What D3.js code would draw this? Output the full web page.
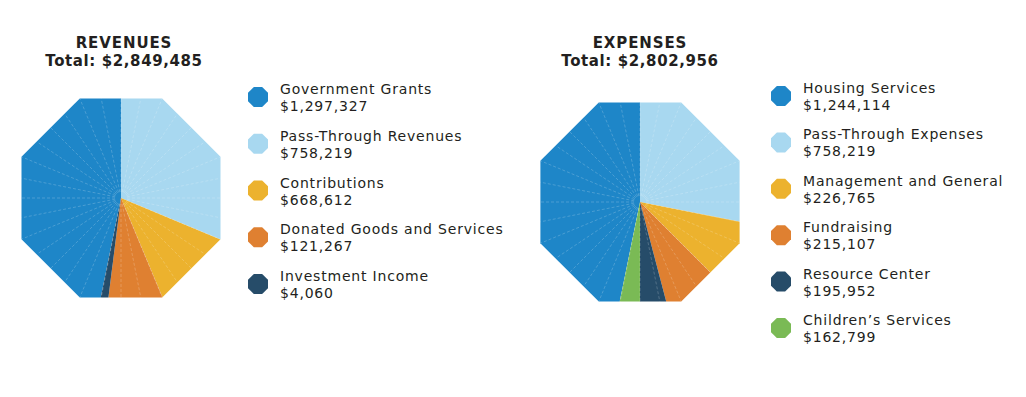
<!DOCTYPE html>
<html>
<head>
<meta charset="utf-8">
<script src="https://cdn.jsdelivr.net/npm/d3@7"></script>
<style>
  body { margin: 0; background: #fff; }
  text { font-family: "DejaVu Sans", sans-serif; fill: #231f20; }
</style>
</head>
<body>
<div id="chart"></div>
<script>
// Revenues
const revenueNames = ["Government Grants", "Pass-Through Revenues", "Contributions", "Donated Goods and Services", "Investment Income"];
const revenueAmounts = [1297327, 758219, 668612, 121267, 4060];
// share of the octagon each slice takes in the picture (percent)
const revenueShares = [46.8, 31.3, 12.4, 8.3, 1.2];
const revenueColors = ["#1e86c8", "#a8d8f0", "#ecb22e", "#df8031", "#264c69"];

// Expenses
const expenseNames = ["Housing Services", "Pass-Through Expenses", "Management and General", "Fundraising", "Resource Center", "Children\u2019s Services"];
const expenseAmounts = [1244114, 758219, 226765, 215107, 195952, 162799];
const expenseShares = [46.8, 28.1, 9.4, 8.4, 4.1, 3.2];
const expenseColors = ["#1e86c8", "#a8d8f0", "#ecb22e", "#df8031", "#264c69", "#7aba55"];

const width = 1026, height = 397;
const money = d3.format("$,");

const svg = d3.select("#chart")
    .append("svg")
    .attr("width", width)
    .attr("height", height);

svg.append("rect").attr("width", width).attr("height", height).attr("fill", "#fff");

// points of a flat-topped regular octagon with the given apothem
function octagon(apothem) {
    const rc = apothem / Math.cos(Math.PI / 8);
    return d3.range(8).map(k => {
        const a = Math.PI / 8 + k * Math.PI / 4;
        return [rc * Math.cos(a), rc * Math.sin(a)];
    });
}

function createOctaPie(id, opts) {
    const g = svg.append("g").attr("transform", `translate(${opts.cx},${opts.cy})`);
    const r = opts.apothem;

    svg.append("clipPath").attr("id", id)
        .append("polygon")
        .attr("points", octagon(r).join(" "));

    const total = d3.sum(opts.shares);
    // first slice ends at 12 o'clock, the rest run clockwise from there
    const start = -2 * Math.PI * opts.shares[0] / total;
    const pie = d3.pie().sort(null).value(d => d)
        .startAngle(start).endAngle(start + 2 * Math.PI);

    const arc = d3.arc().innerRadius(0).outerRadius(r * 1.2);

    const inner = g.append("g").attr("clip-path", `url(#${id})`);
    inner.selectAll("path.slice")
        .data(pie(opts.shares))
        .join("path")
        .attr("class", "slice")
        .attr("d", arc)
        .attr("fill", (d, i) => opts.colors[i]);

    // faint radial seams
    inner.selectAll("line.seam")
        .data(d3.range(32))
        .join("line")
        .attr("class", "seam")
        .attr("x1", k => Math.sin(k * Math.PI / 16) * 6)
        .attr("y1", k => -Math.cos(k * Math.PI / 16) * 6)
        .attr("x2", k => Math.sin(k * Math.PI / 16) * r * 1.2)
        .attr("y2", k => -Math.cos(k * Math.PI / 16) * r * 1.2)
        .attr("stroke", "#fff")
        .attr("stroke-opacity", 0.25)
        .attr("stroke-width", 0.8)
        .attr("stroke-dasharray", "3,2");

    // title
    svg.append("text")
        .attr("x", opts.titleX).attr("y", 48)
        .attr("text-anchor", "middle")
        .attr("font-weight", "bold")
        .attr("font-size", "15px")
        .attr("letter-spacing", "0.9px")
        .text(opts.title);
    svg.append("text")
        .attr("x", opts.titleX).attr("y", 66)
        .attr("text-anchor", "middle")
        .attr("font-weight", "bold")
        .attr("font-size", "15px")
        .attr("letter-spacing", "0.6px")
        .text("Total: " + money(d3.sum(opts.amounts)));

    // legend
    const rows = d3.scalePoint().domain(opts.names).range(opts.legendRange);
    const item = svg.selectAll(null)
        .data(opts.names)
        .join("g")
        .attr("transform", d => `translate(${opts.legendX},${rows(d)})`);

    item.append("polygon")
        .attr("points", octagon(10).join(" "))
        .attr("transform", "translate(-22,3)")
        .attr("fill", (d, i) => opts.colors[i]);

    item.append("text")
        .attr("font-size", "14px")
        .attr("letter-spacing", "0.8px")
        .text(d => d);
    item.append("text")
        .attr("y", 17)
        .attr("font-size", "14px")
        .attr("letter-spacing", "0.8px")
        .text((d, i) => money(opts.amounts[i]));
}

createOctaPie("revClip", {
    cx: 121, cy: 198, apothem: 99.5,
    title: "REVENUES", titleX: 124,
    names: revenueNames, amounts: revenueAmounts,
    shares: revenueShares, colors: revenueColors,
    legendX: 280, legendRange: [94, 281]
});

createOctaPie("expClip", {
    cx: 640, cy: 202, apothem: 99.6,
    title: "EXPENSES", titleX: 640,
    names: expenseNames, amounts: expenseAmounts,
    shares: expenseShares, colors: expenseColors,
    legendX: 803, legendRange: [93, 325]
});
</script>
</body>
</html>
